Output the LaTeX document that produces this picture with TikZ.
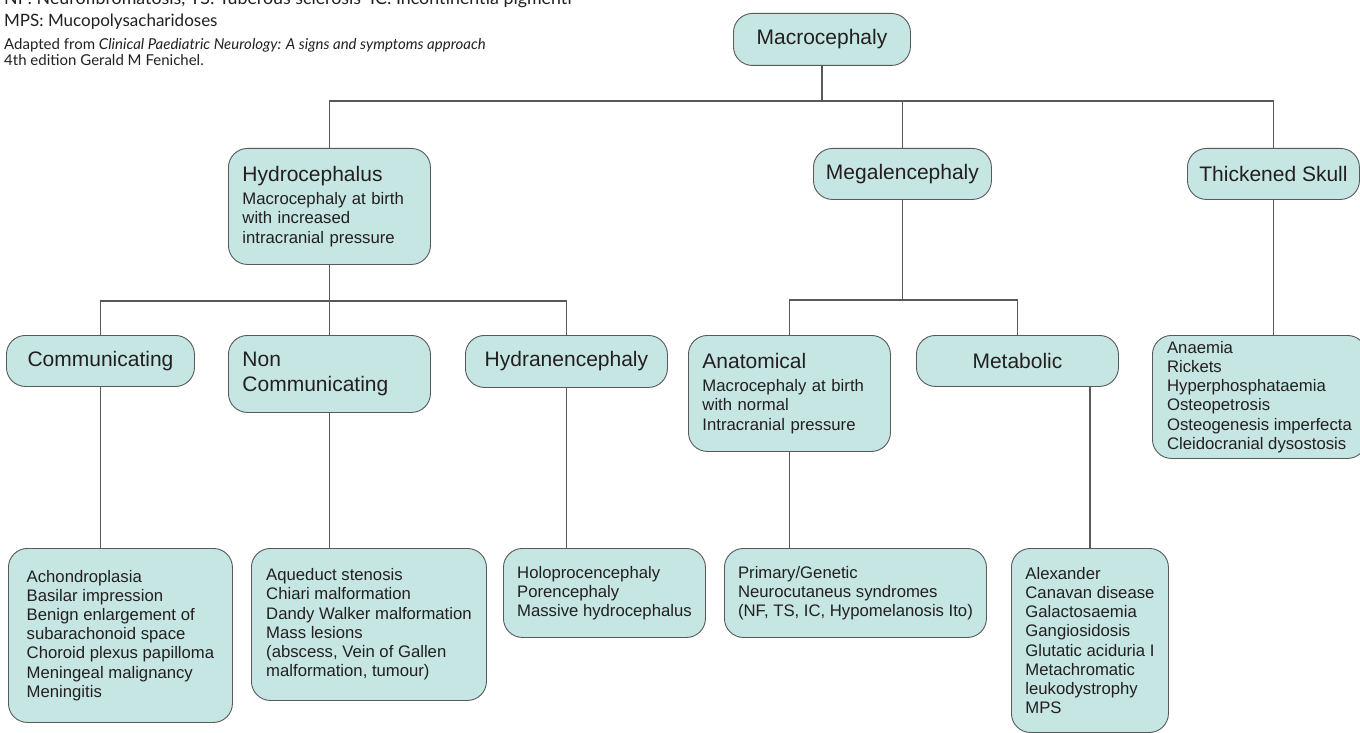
\documentclass[tikz,border=0pt]{standalone}
\usepackage{fontspec}
\setmainfont{Liberation Sans}
\newfontfamily\notefont{Lato}
\definecolor{boxfill}{HTML}{C6E6E3}
\definecolor{boxline}{HTML}{58595B}
\definecolor{linegray}{HTML}{58595B}
\definecolor{ink}{HTML}{231F20}
\newcommand{\hd}{\fontsize{21}{25}\selectfont}
\newcommand{\bd}{\fontsize{16.7}{19.2}\selectfont}
\tikzset{
  box/.style={draw=boxline, line width=0.9pt, fill=boxfill, rounded corners=19pt,
    text=ink, anchor=north west, inner xsep=12pt, inner ysep=0pt, font=\bd, align=left},
  head/.style={box, font=\hd, align=center, inner xsep=8pt},
  link/.style={draw=linegray, line width=1.2pt},
  note/.style={anchor=base west, inner sep=0pt, text=ink, font=\notefont}
}

\begin{document}
\begin{tikzpicture}[x=1pt, y=-1pt]
  \useasboundingbox (0,0) rectangle (1360,733);

  \node[note, font=\notefont\fontsize{17.8}{20}\selectfont] (nf) at (4,5)
    {NF: Neurofibromatosis, TS: Tuberous sclerosis\ \ IC: Incontinentia pigmenti};
  \node[note, font=\notefont\fontsize{17}{20}\selectfont] (mps) at (4,27)
    {MPS: Mucopolysacharidoses};
  \node[note, font=\notefont\fontsize{15}{17}\selectfont] (src) at (4,50)
    {Adapted from \textit{Clinical Paediatric Neurology: A signs and symptoms approach}};
  \node[note, font=\notefont\fontsize{15}{17}\selectfont] (ed) at (4,66)
    {4th edition Gerald M Fenichel.};

  \node[head, minimum width=177pt, minimum height=52pt] (macro) at (733,13) {Macrocephaly};

  \node[box, inner xsep=14pt, minimum width=202pt, minimum height=116pt, text width=174pt] (hydro) at (228,148)
    {{\hd Hydrocephalus}\\[4pt]Macrocephaly at birth\\with increased\\intracranial pressure};
  \node[head, minimum width=178pt, minimum height=51pt] (mega) at (813,148) {Megalencephaly};
  \node[head, minimum width=172pt, minimum height=51pt] (thick) at (1187,148) {Thickened Skull};

  \node[head, minimum width=188pt, minimum height=51pt] (comm) at (6,335) {Communicating};
  \node[box, inner xsep=14pt, font=\hd, minimum width=202pt, minimum height=77pt, text width=174pt] (ncomm) at (228,335)
    {Non\\Communicating};
  \node[head, minimum width=202pt, minimum height=52pt] (hydran) at (465,335) {Hydranencephaly};
  \node[box, inner xsep=14pt, minimum width=202pt, minimum height=116pt, text width=174pt] (anat) at (688,335)
    {{\hd Anatomical}\\[4pt]Macrocephaly at birth\\with normal\\Intracranial pressure};
  \node[head, minimum width=202pt, minimum height=51pt] (metab) at (916,335) {Metabolic};
  \node[box, minimum width=214pt, minimum height=123pt] (thicklist) at (1152,335)
    {Anaemia\\Rickets\\Hyperphosphataemia\\Osteopetrosis\\Osteogenesis imperfecta\\Cleidocranial dysostosis};

  \node[box, minimum width=224pt, minimum height=174pt] (commlist) at (8,548)
    {Achondroplasia\\Basilar impression\\Benign enlargement of\\subarachonoid space\\Choroid plexus papilloma\\Meningeal malignancy\\Meningitis};
  \node[box, minimum width=235pt, minimum height=152pt] (ncommlist) at (251,548)
    {Aqueduct stenosis\\Chiari malformation\\Dandy Walker malformation\\Mass lesions\\(abscess, Vein of Gallen\\malformation, tumour)};
  \node[box, minimum width=202pt, minimum height=89pt] (hydranlist) at (503,548)
    {Holoprocencephaly\\Porencephaly\\Massive hydrocephalus};
  \node[box, minimum width=262pt, minimum height=89pt] (anatlist) at (724,548)
    {Primary/Genetic\\Neurocutaneus syndromes\\(NF, TS, IC, Hypomelanosis Ito)};
  \node[box, minimum width=157pt, minimum height=184pt] (metablist) at (1011,548)
    {Alexander\\Canavan disease\\Galactosaemia\\Gangiosidosis\\Glutatic aciduria I\\Metachromatic\\leukodystrophy\\MPS};

  \coordinate (bar0) at (0,101);
  \coordinate (bar1) at (0,301);
  \coordinate (bar2) at (0,300);
  \draw[link] (macro.south) -- (macro.south |- bar0);
  \draw[link] (hydro.north) |- (bar0 -| thick.north) -- (thick.north);
  \draw[link] (mega.north) -- (mega.north |- bar0);
  \draw[link] (hydro.south) -- (ncomm.north);
  \draw[link] (comm.north) |- (bar1 -| hydran.north) -- (hydran.north);
  \draw[link] (mega.south) -- (mega.south |- bar2);
  \draw[link] (anat.north) |- (bar2 -| metab.north) -- (metab.north);
  \draw[link] (thick.south) -- (thick.south |- thicklist.north);
  \draw[link] (comm.south) -- (comm.south |- commlist.north);
  \draw[link] (ncomm.south) -- (ncomm.south |- ncommlist.north);
  \draw[link] (hydran.south) -- (hydran.south |- hydranlist.north);
  \draw[link] (anat.south) -- (anat.south |- anatlist.north);
  \draw[link] (metablist.north) -- (metablist.north |- metab.south);
\end{tikzpicture}
\end{document}
